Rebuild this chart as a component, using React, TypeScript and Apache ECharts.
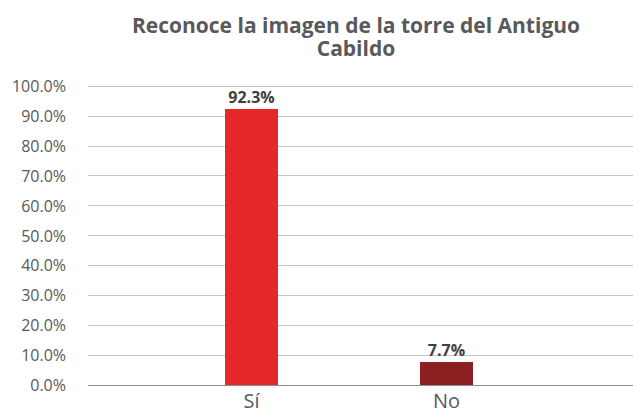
import React, { useEffect, useRef } from "react";
import * as echarts from "echarts";

const titleLines = ["Reconoce la imagen de la torre del Antiguo", "Cabildo"];
const categories = ["Sí", "No"];
const values = [92.3, 7.7];
const barColors = ["#e5292b", "#8b2023"];
const yMin = 0;
const yMax = 100;
const yStep = 10;

export default function App() {
  const ref = useRef<HTMLDivElement>(null);
  useEffect(() => {
    if (!ref.current) return;
    const chart = echarts.init(ref.current, undefined, { renderer: "svg" });
    const font = "'Open Sans', 'Noto Sans', sans-serif";
    const splitColors = Array.from({ length: 11 }, (_, i) => (i === 0 ? "#8f8f8f" : "#c6c6c6"));
    const titleStyle = {
      fontFamily: font,
      fontSize: 21,
      fontWeight: "bold",
      color: "#595959",
      lineHeight: 21,
    };
    chart.setOption({
      animation: false,
      backgroundColor: "#ffffff",
      title: [
        { text: titleLines[0], left: 356, top: 14, padding: 0, textAlign: "center", textStyle: titleStyle },
        { text: titleLines[1], left: 356, top: 37, padding: 0, textAlign: "center", textStyle: titleStyle },
      ],
      grid: [
        { left: 88, right: 0, top: 86, bottom: 29 },
        { left: 154, width: 390, top: 86, bottom: 29 },
      ],
      xAxis: [
        { gridIndex: 0, type: "value", show: false, min: 0, max: 1 },
        {
          gridIndex: 1,
          type: "category",
          data: categories,
          axisLine: { show: false },
          axisTick: { show: false },
          axisLabel: {
            fontFamily: font,
            fontSize: 20,
            color: "#595959",
            margin: 5,
          },
        },
      ],
      yAxis: [
        {
          gridIndex: 0,
          type: "value",
          min: yMin,
          max: yMax,
          interval: yStep,
          axisLine: { show: false },
          axisTick: { show: false },
          axisLabel: {
            fontFamily: font,
            fontSize: 16,
            color: "#595959",
            margin: 22,
            formatter: (v: number) => `${v.toFixed(1)}%`,
          },
          splitLine: { lineStyle: { color: splitColors, width: 1 } },
        },
        { gridIndex: 1, type: "value", min: yMin, max: yMax, interval: yStep, show: false, splitLine: { show: false } },
      ],
      series: [
        {
          type: "bar",
          xAxisIndex: 1,
          yAxisIndex: 1,
          barWidth: 53,
          data: values.map((v, i) => ({ value: v, itemStyle: { color: barColors[i] } })),
          label: {
            show: true,
            position: "top",
            distance: 4,
            fontFamily: font,
            fontSize: 16,
            fontWeight: "bold",
            color: "#404040",
            formatter: (p: any) => `${Number(p.value).toFixed(1)}%`,
          },
        },
      ],
    });
    return () => chart.dispose();
  }, []);
  return <div ref={ref} style={{ position: "fixed", left: 0, top: 0, width: 633, height: 414 }} />;
}
